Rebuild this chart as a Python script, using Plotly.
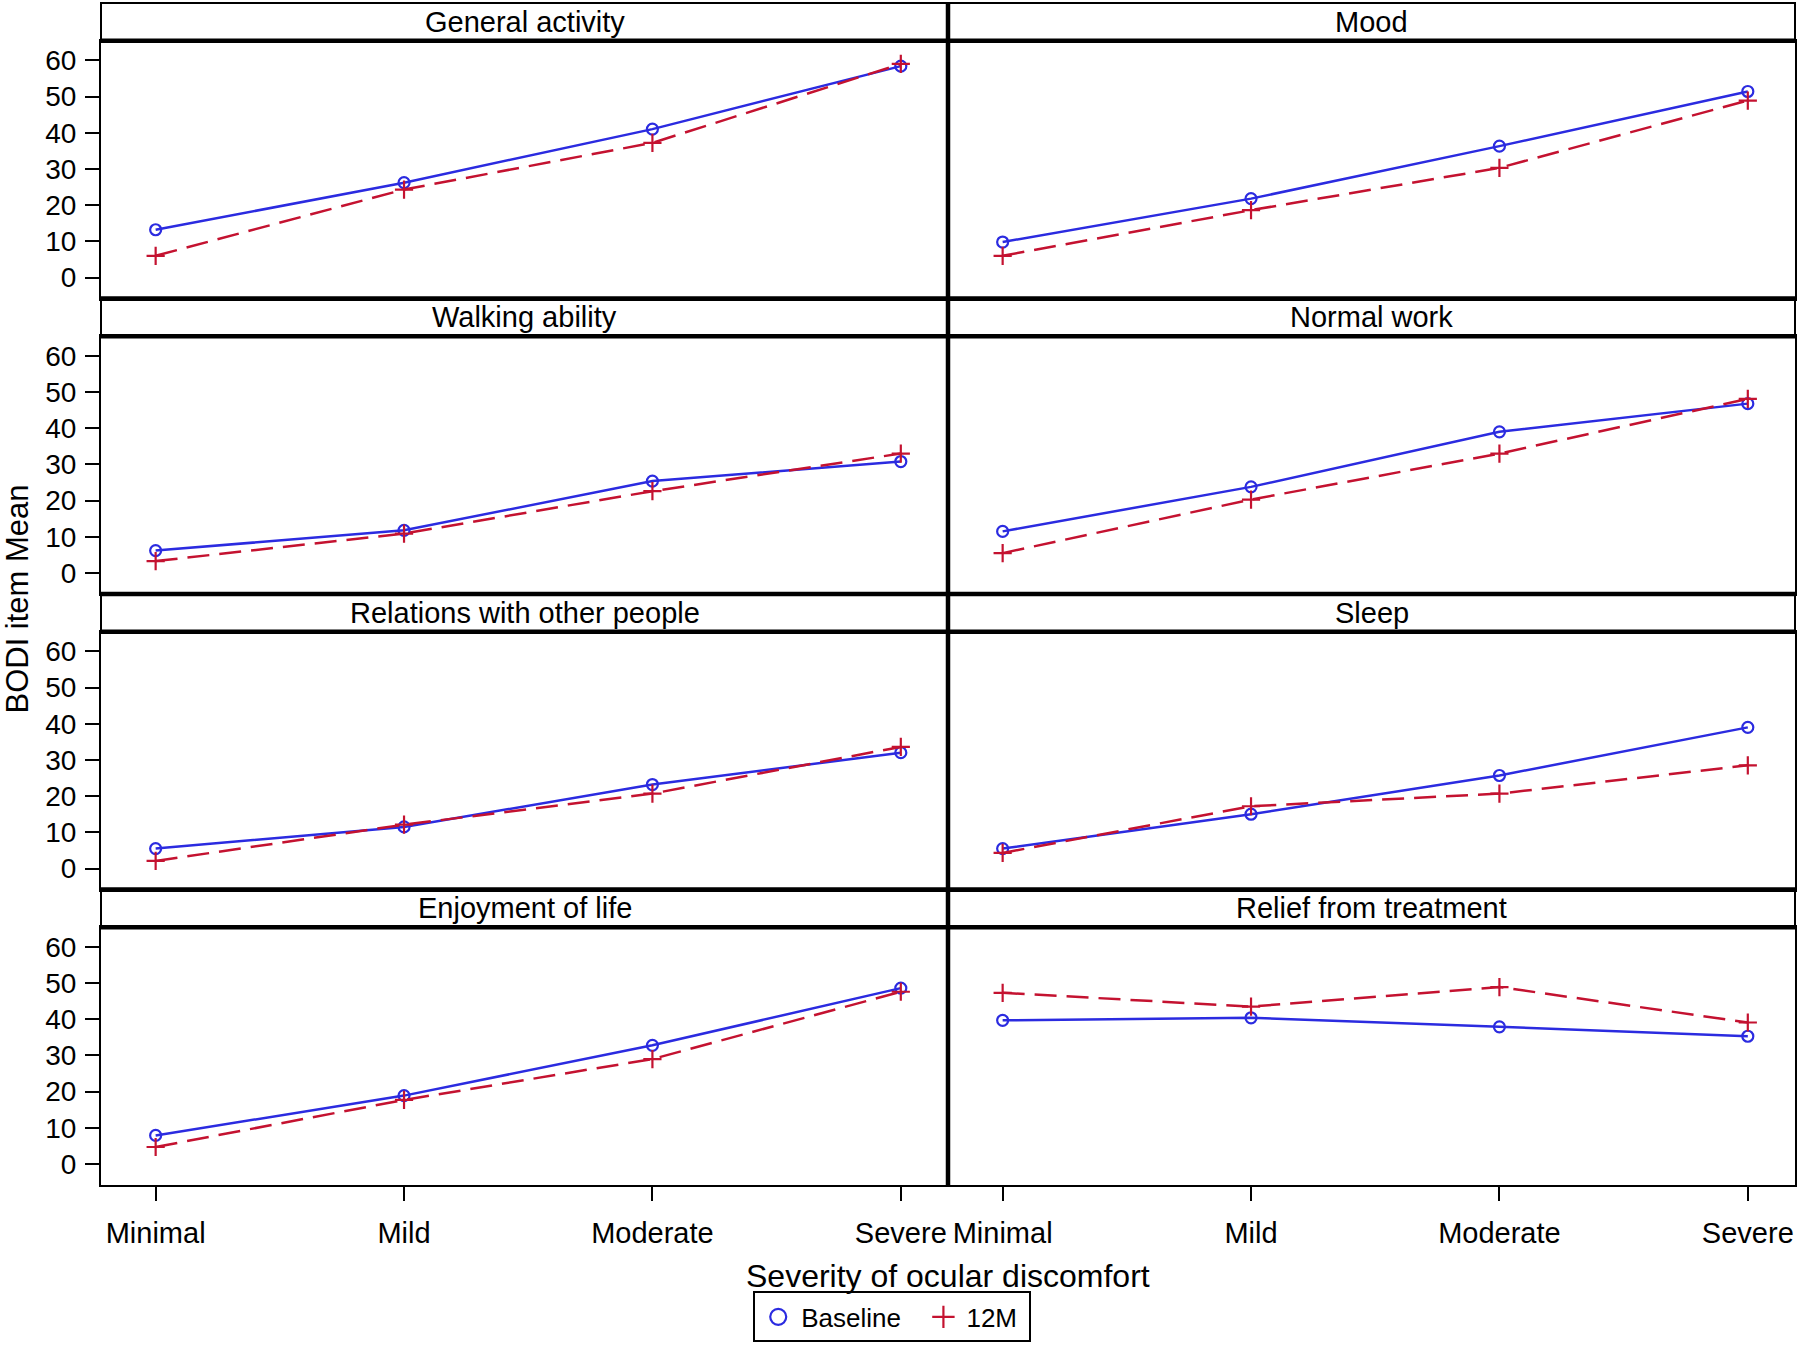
import plotly.graph_objects as go

categories = ["Minimal", "Mild", "Moderate", "Severe"]
panels = ["General activity", "Mood", "Walking ability", "Normal work",
          "Relations with other people", "Sleep", "Enjoyment of life",
          "Relief from treatment"]

baseline = [
    [13.2, 26.2, 41.0, 58.4],
    [9.8, 21.8, 36.3, 51.4],
    [6.2, 11.8, 25.4, 30.8],
    [11.5, 23.8, 39.0, 46.8],
    [5.5, 11.5, 23.2, 32.0],
    [5.5, 15.0, 25.7, 39.0],
    [7.9, 18.9, 32.8, 48.6],
    [39.7, 40.4, 37.9, 35.3],
]
month12 = [
    [6.0, 24.3, 37.2, 59.0],
    [6.0, 18.6, 30.3, 48.9],
    [3.3, 10.9, 22.6, 33.0],
    [5.5, 20.3, 33.0, 48.1],
    [2.1, 12.1, 20.7, 33.6],
    [4.3, 17.2, 20.7, 28.5],
    [4.7, 17.7, 29.0, 47.6],
    [47.3, 43.5, 48.9, 39.1],
]
yticks = [0, 10, 20, 30, 40, 50, 60]

BLUE = "#2b2be0"
RED = "#c41230"
FONT = "Liberation Sans, Arial, sans-serif"

W, H = 1800, 1346
ML, MR, MT = 101, 3, 3
PH = 1188
MB = H - MT - PH
PW = W - ML - MR
ROW = PH / 4
STRIP = 38
BOTTOM = MT + PH   # pixel row of the lowest axis line


def below(px):
    # paper y for a pixel row under the plot area
    return -(px - BOTTOM) / PH


fig = go.Figure()
shapes = []
annotations = []

for i, name in enumerate(panels):
    row, col = divmod(i, 2)
    n = i + 1
    xa = "x" if n == 1 else f"x{n}"
    ya = "y" if n == 1 else f"y{n}"
    bottom = (3 - row) * ROW
    top = bottom + ROW - STRIP
    y0, y1 = bottom / PH, top / PH
    s1 = (bottom + ROW) / PH
    x0, x1 = col * 0.5, col * 0.5 + 0.5

    fig.add_trace(go.Scatter(
        x=categories, y=baseline[i], xaxis=xa, yaxis=ya, mode="lines+markers",
        line=dict(color=BLUE, width=2.5),
        marker=dict(symbol="circle-open", size=11, color=BLUE, line=dict(width=2.2)),
        showlegend=False, name="Baseline"))
    fig.add_trace(go.Scatter(
        x=categories, y=month12[i], xaxis=xa, yaxis=ya, mode="lines+markers",
        line=dict(color=RED, width=2.5, dash="22px,10px"),
        marker=dict(symbol="cross-thin-open", size=13, color=RED, line=dict(width=2.2, color=RED)),
        showlegend=False, name="12M"))

    fig.layout[xa.replace("x", "xaxis")] = dict(
        domain=[x0, x1], anchor=ya, type="category", range=[-0.22, 3.19],
        showgrid=False, zeroline=False, showline=True, linecolor="black", linewidth=2,
        mirror=True, ticks="outside" if row == 3 else "", ticklen=14, tickwidth=2,
        tickcolor="black", showticklabels=(row == 3), ticklabelstandoff=7,
        tickfont=dict(size=29, color="black", family=FONT))
    fig.layout[ya.replace("y", "yaxis")] = dict(
        domain=[y0, y1], anchor=xa, range=[-5.8, 65.4], tickvals=yticks,
        showgrid=False, zeroline=False, showline=True, linecolor="black", linewidth=2,
        mirror=True, ticks="outside" if col == 0 else "", ticklen=14, tickwidth=2,
        tickcolor="black", showticklabels=(col == 0), ticklabelstandoff=3,
        tickfont=dict(size=28, color="black", family=FONT))

    # strip box
    shapes.append(dict(type="rect", xref="paper", yref="paper", x0=x0, x1=x1,
                       y0=y1, y1=s1, line=dict(color="black", width=2)))
    annotations.append(dict(text=name, xref="paper", yref="paper", x=(x0 + x1) / 2,
                            y=(y1 + s1) / 2, showarrow=False, xanchor="center",
                            yanchor="middle", font=dict(size=29, color="black", family=FONT)))

# thick separators
for row in range(4):
    bottom = (3 - row) * ROW
    top = bottom + ROW - STRIP
    shapes.append(dict(type="line", xref="paper", yref="paper", x0=0, x1=1,
                       y0=top / PH, y1=top / PH, line=dict(color="black", width=4.5)))
    if row < 3:
        shapes.append(dict(type="line", xref="paper", yref="paper", x0=0, x1=1,
                           y0=bottom / PH, y1=bottom / PH, line=dict(color="black", width=4.5)))
shapes.append(dict(type="line", xref="paper", yref="paper", x0=0.5, x1=0.5,
                   y0=0, y1=1, line=dict(color="black", width=4.5)))

annotations.append(dict(text="Severity of ocular discomfort", xref="paper", yref="paper",
                        x=0.5, y=below(1282), showarrow=False, yanchor="middle",
                        font=dict(size=32, color="black", family=FONT)))
annotations.append(dict(text="BODI item Mean", xref="paper", yref="paper",
                        x=-(ML - 17) / PW, y=0.4954, showarrow=False,
                        textangle=-90, xanchor="center", yanchor="middle",
                        font=dict(size=31, color="black", family=FONT)))

# legend-only entries
fig.add_trace(go.Scatter(x=[None], y=[None], mode="markers", name="Baseline&nbsp;&nbsp;",
                         marker=dict(symbol="circle-open", size=16, color=BLUE, line=dict(width=2.2))))
fig.add_trace(go.Scatter(x=[None], y=[None], mode="markers", name="12M&nbsp;",
                         marker=dict(symbol="cross-thin-open", size=20, color=RED,
                                     line=dict(width=2.2, color=RED))))

fig.update_layout(
    width=W, height=H,
    margin=dict(l=ML, r=MR, t=MT, b=MB),
    plot_bgcolor="white", paper_bgcolor="white",
    font=dict(family=FONT, color="black"),
    shapes=shapes, annotations=annotations,
    showlegend=True,
    legend=dict(orientation="h", x=(754 - ML) / PW, xanchor="left",
                y=below(1298), yanchor="top",
                bordercolor="black", borderwidth=2, bgcolor="white",
                font=dict(size=26, color="black", family=FONT),
                itemwidth=36, tracegroupgap=0),
)

# drop the page's default body margin so the figure sits at the window's corner
fig.write_html("out.html", config={"displayModeBar": False},
               post_script="document.body.style.margin='0';document.body.style.overflow='hidden';")
